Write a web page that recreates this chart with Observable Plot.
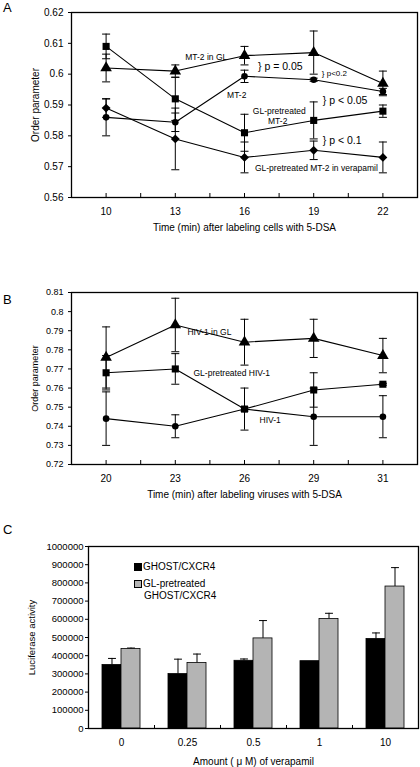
<!DOCTYPE html>
<html>
<head>
<meta charset="utf-8">
<script src="https://cdn.jsdelivr.net/npm/d3@7"></script>
<script src="https://cdn.jsdelivr.net/npm/@observablehq/plot@0.6"></script>
<style>
  body { margin: 0; background: #fff; font-family: "Liberation Sans", Arial, sans-serif; }
  #wrap { position: relative; width: 420px; height: 767px; overflow: hidden; }
  .panel { position: absolute; left: 0; }
  .letter { position: absolute; font-size: 13px; line-height: 14px; color: #000; }
  .legend { position: absolute; font-size: 10px; line-height: 12px; color: #000; }
  .sw { display: inline-block; width: 8px; height: 8px; border: 0.8px solid #000; box-sizing: border-box; vertical-align: -1px; margin-right: 1px; }
</style>
</head>
<body>
<div id="wrap"></div>
<script>
// ---------- Panel A data ----------
const timesA = ["10", "13", "16", "19", "22"];
const mt2GL      = [0.602, 0.601, 0.606, 0.607, 0.597];
const mt2GLErr   = [0.0045, 0.002, 0.003, 0.007, 0.004];
const mt2        = [0.586, 0.5844, 0.5993, 0.5982, 0.5944];
const mt2Err     = [0.006, 0.003, 0.002, 0.0005, 0.001];
const glMt2      = [0.609, 0.592, 0.581, 0.585, 0.588];
const glMt2Err   = [0.004, 0.007, 0.006, 0.006, 0.002];
const glMt2Vera  = [0.589, 0.579, 0.573, 0.5753, 0.573];
const glMt2VeraErr = [0.003, 0.010, 0.005, 0.003, 0.005];
const ticksA = [0.56, 0.57, 0.58, 0.59, 0.60, 0.61, 0.62];

// ---------- Panel B data ----------
const timesB = ["20", "23", "26", "29", "31"];
const hivGL      = [0.776, 0.793, 0.784, 0.786, 0.777];
const hivGLErr   = [0.016, 0.014, 0.012, 0.010, 0.009];
const glHiv      = [0.768, 0.770, 0.749, 0.759, 0.762];
const glHivErr   = [0.009, 0.008, 0.011, 0.009, 0.0005];
const hiv        = [0.744, 0.740, 0.749, 0.745, 0.745];
const hivErr     = [0.014, 0.006, 0.001, 0.015, 0.011];
const ticksB = [0.72, 0.73, 0.74, 0.75, 0.76, 0.77, 0.78, 0.79, 0.80, 0.81];

// ---------- Panel C data ----------
const doses = ["0", "0.25", "0.5", "1", "10"];
const ghost      = [349000, 299000, 372000, 370000, 492000];
const ghostErr   = [36000, 82000, 10000, 0, 33000];
const glGhost    = [437000, 360000, 495000, 602000, 780000];
const glGhostErr = [5000, 49000, 98000, 31000, 104000];
const ticksC = d3.range(0, 1000001, 100000);

// ---------- Annotations ----------
const annA = [
  {x: 1.143, y: 0.6055, text: "MT-2 in GL", size: 8.5},
  {x: 2.195, y: 0.6026, text: "} p = 0.05", size: 10.5},
  {x: 3.117, y: 0.6003, text: "} p<0.2", size: 8},
  {x: 1.748, y: 0.5932, text: "MT-2", size: 8.5},
  {x: 3.131, y: 0.5915, text: "} p < 0.05", size: 10.5},
  {x: 2.12,  y: 0.5879, text: "GL-pretreated", size: 8.5},
  {x: 2.34,  y: 0.5846, text: "MT-2", size: 8.5},
  {x: 3.131, y: 0.5785, text: "} p < 0.1", size: 10.5},
  {x: 2.151, y: 0.5695, text: "GL-pretreated MT-2 in verapamil", size: 8.5}
];
const annB = [
  {x: 1.176, y: 0.7891, text: "HIV-1 in GL", size: 8.5},
  {x: 1.263, y: 0.7676, text: "GL-pretreated HIV-1", size: 8.5},
  {x: 2.217, y: 0.743,  text: "HIV-1", size: 8.5}
];

const FONT = "Liberation Sans, Arial, sans-serif";
const wrap = document.getElementById("wrap");
const fmt = d => String(+d.toFixed(2));

function series(vals, errs) {
  return vals.map((v, i) => ({x: i, y: v, lo: v - errs[i], hi: v + errs[i]}));
}

const CAP = 0.058;
function lineMarks(list) {
  const marks = [];
  for (const s of list) {
    marks.push(Plot.ruleX(s.data, {x: "x", y1: "lo", y2: "hi", stroke: "#000", strokeWidth: 1}));
    marks.push(Plot.link(s.data, {x1: d => d.x - CAP, x2: d => d.x + CAP, y1: "hi", y2: "hi", stroke: "#000", strokeWidth: 1}));
    marks.push(Plot.link(s.data, {x1: d => d.x - CAP, x2: d => d.x + CAP, y1: "lo", y2: "lo", stroke: "#000", strokeWidth: 1}));
  }
  for (const s of list) {
    marks.push(Plot.line(s.data, {x: "x", y: "y", stroke: "#000", strokeWidth: 1.1}));
  }
  for (const s of list) {
    marks.push(Plot.dot(s.data, {x: "x", y: "y", symbol: () => s.symbol, fill: "#000", stroke: "none", r: s.r}));
  }
  return marks;
}

function place(svg, top) {
  svg.classList.add("panel");
  svg.style.top = top + "px";
  wrap.appendChild(svg);
}

function lineChart({height, marginTop, marginBottom, domain, yticks, cats, seriesList, ann, xlabel, ylabel, yFont}) {
  return Plot.plot({
    width: 420, height, marginTop, marginBottom, marginLeft: 71, marginRight: 3,
    style: {fontFamily: FONT, fontSize: "10px", color: "#000", background: "transparent", overflow: "visible"},
    x: {type: "linear", domain: [-0.5, 4.5]},
    y: {domain},
    marks: [
      ...lineMarks(seriesList),
      Plot.text(ann, {x: "x", y: "y", text: "text", fontSize: "size", textAnchor: "start", fill: "#000", fontFamily: FONT}),
      Plot.axisX({ticks: [-0.5, 0, 0.5, 1, 1.5, 2, 2.5, 3, 3.5, 4, 4.5], tickSize: -4, text: null, label: null, stroke: "#000"}),
      Plot.axisX({ticks: [0, 1, 2, 3, 4], tickFormat: i => cats[i], tickSize: 0, tickPadding: 10, fontSize: 10, label: xlabel, labelAnchor: "center", labelOffset: 33, labelArrow: "none"}),
      Plot.axisY({ticks: yticks, tickFormat: fmt, tickSize: 3, tickPadding: 5, fontSize: yFont, label: ylabel, labelAnchor: "center", labelOffset: 40, labelArrow: "none"}),
      Plot.frame({stroke: "#000", strokeWidth: 1.3})
    ]
  });
}

// ---------- Panel A ----------
const svgA = lineChart({
  height: 240, marginTop: 12, marginBottom: 43,
  domain: [0.56, 0.62], yticks: ticksA, cats: timesA,
  seriesList: [
    {data: series(glMt2Vera, glMt2VeraErr), symbol: "diamond2", r: 4},
    {data: series(mt2, mt2Err), symbol: "circle", r: 3.3},
    {data: series(glMt2, glMt2Err), symbol: "square", r: 4},
    {data: series(mt2GL, mt2GLErr), symbol: "triangle", r: 4.3}
  ],
  ann: annA,
  xlabel: "Time (min) after labeling cells with 5-DSA",
  ylabel: "Order parameter", yFont: 10
});
place(svgA, 0);

// ---------- Panel B ----------
const svgB = lineChart({
  height: 270, marginTop: 52, marginBottom: 46,
  domain: [0.72, 0.81], yticks: ticksB, cats: timesB,
  seriesList: [
    {data: series(hiv, hivErr), symbol: "circle", r: 3.3},
    {data: series(glHiv, glHivErr), symbol: "square", r: 4},
    {data: series(hivGL, hivGLErr), symbol: "triangle", r: 4.3}
  ],
  ann: annB,
  xlabel: "Time (min) after labeling viruses with 5-DSA",
  ylabel: "Order parameter", yFont: 9
});
place(svgB, 240);

// ---------- Panel C ----------
const BW = 0.288;
const barData = [];
doses.forEach((d, i) => {
  barData.push({x1: i - BW, x2: i, y: ghost[i], err: ghostErr[i], fill: "#000"});
  barData.push({x1: i, x2: i + BW, y: glGhost[i], err: glGhostErr[i], fill: "#b4b4b4"});
});
const CAPC = 0.06;
const withErr = barData.filter(d => d.err > 0);
const svgC = Plot.plot({
  width: 420, height: 257, marginTop: 36, marginBottom: 39, marginLeft: 88, marginRight: 2,
  style: {fontFamily: FONT, fontSize: "10px", color: "#000", background: "transparent", overflow: "visible"},
  x: {type: "linear", domain: [-0.5, 4.5]},
  y: {domain: [0, 1000000]},
  marks: [
    Plot.ruleX(withErr, {x: d => (d.x1 + d.x2) / 2, y1: "y", y2: d => d.y + d.err, stroke: "#000", strokeWidth: 1}),
    Plot.link(withErr, {x1: d => (d.x1 + d.x2) / 2 - CAPC, x2: d => (d.x1 + d.x2) / 2 + CAPC, y1: d => d.y + d.err, y2: d => d.y + d.err, stroke: "#000", strokeWidth: 1}),
    Plot.rectY(barData, {x1: "x1", x2: "x2", y1: 0, y2: "y", fill: "fill", stroke: "#000", strokeWidth: 0.8}),
    Plot.axisX({ticks: [-0.5, 0.5, 1.5, 2.5, 3.5, 4.5], tickSize: -3, text: null, label: null, stroke: "#000"}),
    Plot.axisX({ticks: [0, 1, 2, 3, 4], tickFormat: i => doses[i], tickSize: 0, tickPadding: 10, fontSize: 10, label: "Amount ( \u03BC M) of verapamil", labelAnchor: "center", labelOffset: 36, labelArrow: "none"}),
    Plot.axisY({ticks: ticksC, tickFormat: d => String(d), tickSize: 3, tickPadding: 2, fontSize: 9.5, label: "Luciferase activity", labelAnchor: "center", labelOffset: 60, labelArrow: "none"}),
    Plot.frame({stroke: "#000", strokeWidth: 1.3})
  ]
});
place(svgC, 510);

// ---------- Letters & legend (HTML) ----------
function addDiv(cls, html, left, top) {
  const d = document.createElement("div");
  d.className = cls; d.innerHTML = html;
  d.style.left = left + "px"; d.style.top = top + "px";
  wrap.appendChild(d);
}
addDiv("letter", "A", 3, 1);
addDiv("letter", "B", 3, 293);
addDiv("letter", "C", 3, 523);
addDiv("legend",
  '<div><span class="sw" style="background:#000"></span>GHOST/CXCR4</div>' +
  '<div style="margin-top:5px"><span class="sw" style="background:#b4b4b4"></span>GL-pretreated</div>' +
  '<div style="padding-left:10px">GHOST/CXCR4</div>', 134, 561);
</script>
</body>
</html>
